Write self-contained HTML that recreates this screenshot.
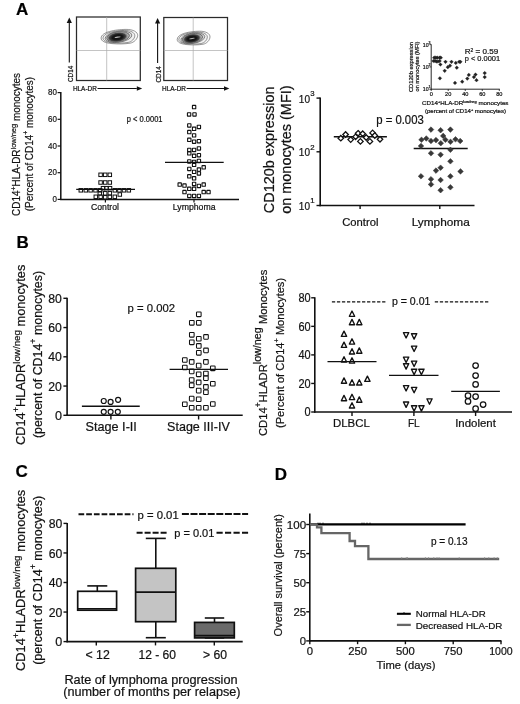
<!DOCTYPE html><html><head><meta charset="utf-8"><style>html,body{margin:0;padding:0;background:#fff;width:520px;height:704px;overflow:hidden}svg{display:block;will-change:transform}text{stroke:#1a1a1a;stroke-width:0.22px;paint-order:stroke}</style></head><body><svg width="520" height="704" viewBox="0 0 520 704" font-family='"Liberation Sans", sans-serif'>
<rect width="520" height="704" fill="#fff"/>
<text x="16" y="15" font-size="17" text-anchor="start" font-weight="bold" fill="#000" >A</text>
<line x1="69.3" y1="62.5" x2="69.3" y2="22" stroke="#111" stroke-width="1.1" />
<path d="M69.3 17.4L71.89999999999999 23.0L66.7 23.0Z" fill="#111"/>
<text transform="translate(72.6,82) rotate(-90)" font-size="6.8" text-anchor="start" fill="#111" textLength="16.3" lengthAdjust="spacingAndGlyphs">CD14</text>
<text x="72.9" y="91.0" font-size="6.6" text-anchor="start" font-weight="normal" fill="#111" textLength="23.9" lengthAdjust="spacingAndGlyphs" >HLA-DR</text>
<line x1="97.5" y1="88.5" x2="136.8" y2="88.5" stroke="#111" stroke-width="1.1" />
<path d="M142.20000000000002 88.5L136.8 86.2L136.8 90.8Z" fill="#111"/>
<rect x="76.5" y="17" width="63.80000000000001" height="63.5" fill="none" stroke="#2a2a2a" stroke-width="1.25"/>
<line x1="106.7" y1="17" x2="106.7" y2="80.5" stroke="#aaa" stroke-width="0.7" />
<line x1="76.5" y1="50.5" x2="140.3" y2="50.5" stroke="#aaa" stroke-width="0.7" />
<defs><radialGradient id="g1" cx="0.5" cy="0.5" r="0.5"><stop offset="0" stop-color="#111"/><stop offset="0.5" stop-color="#161616"/><stop offset="0.78" stop-color="#444"/><stop offset="1" stop-color="#888" stop-opacity="0.3"/></radialGradient></defs>
<path d="M101.10 38.00C101.40 32.00 114.98 29.50 126.04 29.40C133.07 29.30 137.90 32.00 137.70 35.50C137.50 39.00 134.08 42.50 130.06 43.20C125.03 44.00 117.99 44.20 111.96 43.60C104.92 43.00 100.90 41.00 101.10 38.00Z" fill="#fbfbfb" stroke="#444" stroke-width="0.55"/>
<path d="M102.98 37.92C103.24 32.70 115.05 30.52 124.67 30.44C130.80 30.35 135.00 32.70 134.82 35.74C134.65 38.79 131.67 41.83 128.17 42.44C123.80 43.14 117.68 43.31 112.43 42.79C106.30 42.27 102.80 40.53 102.98 37.92Z" fill="#f0f0f0" stroke="#444" stroke-width="0.55"/>
<g transform="translate(119.4,36.6) rotate(-8)" stroke="#3a3a3a">
<ellipse cx="-0.90" cy="0.10" rx="13.47" ry="5.50" stroke-width="0.55" fill="#dedede"/>
<ellipse cx="-1.31" cy="0.10" rx="11.46" ry="4.90" stroke-width="0.6" fill="#b0b0b0"/>
<ellipse cx="-2.01" cy="0.3" rx="10.46" ry="5.10" fill="url(#g1)" stroke="none"/>
<ellipse cx="-1.81" cy="0.3" rx="3.22" ry="0.55" fill="#bbb" stroke="none"/>
</g>
<line x1="157.6" y1="63.0" x2="157.6" y2="22.5" stroke="#111" stroke-width="1.1" />
<path d="M157.6 17.9L160.2 23.5L155.0 23.5Z" fill="#111"/>
<text transform="translate(160.9,82.5) rotate(-90)" font-size="6.8" text-anchor="start" fill="#111" textLength="16.3" lengthAdjust="spacingAndGlyphs">CD14</text>
<text x="162.0" y="91.0" font-size="6.6" text-anchor="start" font-weight="normal" fill="#111" textLength="23.9" lengthAdjust="spacingAndGlyphs" >HLA-DR</text>
<line x1="186.6" y1="88.5" x2="224.0" y2="88.5" stroke="#111" stroke-width="1.1" />
<path d="M229.4 88.5L224.0 86.2L224.0 90.8Z" fill="#111"/>
<rect x="163.8" y="17.5" width="63.69999999999999" height="63.0" fill="none" stroke="#2a2a2a" stroke-width="1.25"/>
<line x1="193.2" y1="17.5" x2="193.2" y2="80.5" stroke="#aaa" stroke-width="0.7" />
<line x1="163.8" y1="50.5" x2="227.5" y2="50.5" stroke="#aaa" stroke-width="0.7" />
<defs><radialGradient id="g2" cx="0.5" cy="0.5" r="0.5"><stop offset="0" stop-color="#111"/><stop offset="0.5" stop-color="#161616"/><stop offset="0.78" stop-color="#444"/><stop offset="1" stop-color="#888" stop-opacity="0.3"/></radialGradient></defs>
<path d="M177.20 39.32C177.47 33.66 189.64 31.31 199.55 31.21C205.85 31.12 210.18 33.66 210.00 36.96C209.82 40.26 206.76 43.56 203.15 44.22C198.65 44.98 192.34 45.17 186.93 44.60C180.62 44.03 177.02 42.15 177.20 39.32Z" fill="#fbfbfb" stroke="#444" stroke-width="0.55"/>
<path d="M178.83 39.25C179.07 34.33 189.65 32.28 198.27 32.19C203.76 32.11 207.52 34.33 207.37 37.20C207.21 40.07 204.55 42.94 201.41 43.51C197.49 44.17 192.00 44.33 187.30 43.84C181.81 43.35 178.68 41.71 178.83 39.25Z" fill="#f0f0f0" stroke="#444" stroke-width="0.55"/>
<g transform="translate(193.6,38.0) rotate(-9)" stroke="#3a3a3a">
<ellipse cx="-0.81" cy="0.10" rx="12.07" ry="5.19" stroke-width="0.55" fill="#dedede"/>
<ellipse cx="-1.17" cy="0.10" rx="10.27" ry="4.62" stroke-width="0.6" fill="#b0b0b0"/>
<ellipse cx="-1.80" cy="0.3" rx="9.37" ry="4.81" fill="url(#g2)" stroke="none"/>
<ellipse cx="-1.62" cy="0.3" rx="2.88" ry="0.55" fill="#bbb" stroke="none"/>
</g>
<line x1="60.8" y1="92.10000000000001" x2="60.8" y2="200.1" stroke="#111" stroke-width="1.5" />
<line x1="60.099999999999994" y1="199.4" x2="239" y2="199.4" stroke="#111" stroke-width="1.5" />
<line x1="57.599999999999994" y1="199.4" x2="60.8" y2="199.4" stroke="#111" stroke-width="1.2" />
<text x="56.9" y="202.1" font-size="9.9" text-anchor="end" font-weight="normal" fill="#111" textLength="4.45" lengthAdjust="spacingAndGlyphs" >0</text>
<line x1="57.599999999999994" y1="172.70000000000002" x2="60.8" y2="172.70000000000002" stroke="#111" stroke-width="1.2" />
<text x="56.9" y="175.4" font-size="9.9" text-anchor="end" font-weight="normal" fill="#111" textLength="8.9" lengthAdjust="spacingAndGlyphs" >20</text>
<line x1="57.599999999999994" y1="146.0" x2="60.8" y2="146.0" stroke="#111" stroke-width="1.2" />
<text x="56.9" y="148.7" font-size="9.9" text-anchor="end" font-weight="normal" fill="#111" textLength="8.9" lengthAdjust="spacingAndGlyphs" >40</text>
<line x1="57.599999999999994" y1="119.30000000000001" x2="60.8" y2="119.30000000000001" stroke="#111" stroke-width="1.2" />
<text x="56.9" y="122.00000000000001" font-size="9.9" text-anchor="end" font-weight="normal" fill="#111" textLength="8.9" lengthAdjust="spacingAndGlyphs" >60</text>
<line x1="57.599999999999994" y1="92.60000000000001" x2="60.8" y2="92.60000000000001" stroke="#111" stroke-width="1.2" />
<text x="56.9" y="95.30000000000001" font-size="9.9" text-anchor="end" font-weight="normal" fill="#111" textLength="8.9" lengthAdjust="spacingAndGlyphs" >80</text>
<line x1="105.4" y1="199.4" x2="105.4" y2="202.4" stroke="#111" stroke-width="1.2" />
<line x1="194" y1="199.4" x2="194" y2="202.4" stroke="#111" stroke-width="1.2" />
<text x="105" y="210" font-size="8.7" text-anchor="middle" font-weight="normal" fill="#111" textLength="27.9" lengthAdjust="spacingAndGlyphs" >Control</text>
<text x="194.2" y="210" font-size="8.7" text-anchor="middle" font-weight="normal" fill="#111" textLength="42.7" lengthAdjust="spacingAndGlyphs" >Lymphoma</text>
<text x="126.8" y="121.9" font-size="8.2" text-anchor="start" font-weight="normal" fill="#111" textLength="35.7" lengthAdjust="spacingAndGlyphs" >p &lt; 0.0001</text>
<text transform="translate(20.1,215.9) rotate(-90)" font-size="10" text-anchor="start" fill="#111" textLength="142.8" lengthAdjust="spacingAndGlyphs">CD14<tspan dy="-4.3" font-size="7">+</tspan><tspan dy="4.3">HLA-DR<tspan dy="-3.7" font-size="7.5">low/neg</tspan><tspan dy="3.7"> monocytes</tspan></tspan></text>
<text transform="translate(32.6,211.2) rotate(-90)" font-size="10" text-anchor="start" fill="#111" textLength="134.2" lengthAdjust="spacingAndGlyphs">(Percent of CD14<tspan dy="-4.3" font-size="7">+</tspan><tspan dy="4.3"> monocytes)</tspan></text>
<line x1="76.2" y1="189.3" x2="135" y2="189.3" stroke="#111" stroke-width="1.2" />
<rect x="98.85" y="173.05" width="3.5" height="3.5" rx="0" fill="none" stroke="#111" stroke-width="1.0"/>
<rect x="103.45" y="173.05" width="3.5" height="3.5" rx="0" fill="none" stroke="#111" stroke-width="1.0"/>
<rect x="108.05" y="173.05" width="3.5" height="3.5" rx="0" fill="none" stroke="#111" stroke-width="1.0"/>
<rect x="98.85" y="180.75" width="3.5" height="3.5" rx="0" fill="none" stroke="#111" stroke-width="1.0"/>
<rect x="103.45" y="180.75" width="3.5" height="3.5" rx="0" fill="none" stroke="#111" stroke-width="1.0"/>
<rect x="108.05" y="180.75" width="3.5" height="3.5" rx="0" fill="none" stroke="#111" stroke-width="1.0"/>
<rect x="101.25" y="186.45" width="3.5" height="3.5" rx="0" fill="none" stroke="#111" stroke-width="1.0"/>
<rect x="104.75" y="186.45" width="3.5" height="3.5" rx="0" fill="none" stroke="#111" stroke-width="1.0"/>
<rect x="108.25" y="186.45" width="3.5" height="3.5" rx="0" fill="none" stroke="#111" stroke-width="1.0"/>
<rect x="79.05" y="188.55" width="3.5" height="3.5" rx="0" fill="none" stroke="#111" stroke-width="1.0"/>
<rect x="84.05" y="188.55" width="3.5" height="3.5" rx="0" fill="none" stroke="#111" stroke-width="1.0"/>
<rect x="88.85" y="188.55" width="3.5" height="3.5" rx="0" fill="none" stroke="#111" stroke-width="1.0"/>
<rect x="93.75" y="188.55" width="3.5" height="3.5" rx="0" fill="none" stroke="#111" stroke-width="1.0"/>
<rect x="98.45" y="188.55" width="3.5" height="3.5" rx="0" fill="none" stroke="#111" stroke-width="1.0"/>
<rect x="113.05" y="188.55" width="3.5" height="3.5" rx="0" fill="none" stroke="#111" stroke-width="1.0"/>
<rect x="117.65" y="188.55" width="3.5" height="3.5" rx="0" fill="none" stroke="#111" stroke-width="1.0"/>
<rect x="122.25" y="188.55" width="3.5" height="3.5" rx="0" fill="none" stroke="#111" stroke-width="1.0"/>
<rect x="127.05" y="188.55" width="3.5" height="3.5" rx="0" fill="none" stroke="#111" stroke-width="1.0"/>
<rect x="98.05" y="191.55" width="3.5" height="3.5" rx="0" fill="none" stroke="#111" stroke-width="1.0"/>
<rect x="103.45" y="191.55" width="3.5" height="3.5" rx="0" fill="none" stroke="#111" stroke-width="1.0"/>
<rect x="108.05" y="191.55" width="3.5" height="3.5" rx="0" fill="none" stroke="#111" stroke-width="1.0"/>
<rect x="118.05" y="192.75" width="3.5" height="3.5" rx="0" fill="none" stroke="#111" stroke-width="1.0"/>
<rect x="94.05" y="195.05" width="3.5" height="3.5" rx="0" fill="none" stroke="#111" stroke-width="1.0"/>
<rect x="98.85" y="195.05" width="3.5" height="3.5" rx="0" fill="none" stroke="#111" stroke-width="1.0"/>
<rect x="103.45" y="195.55" width="3.5" height="3.5" rx="0" fill="none" stroke="#111" stroke-width="1.0"/>
<rect x="108.05" y="195.05" width="3.5" height="3.5" rx="0" fill="none" stroke="#111" stroke-width="1.0"/>
<rect x="113.05" y="195.05" width="3.5" height="3.5" rx="0" fill="none" stroke="#111" stroke-width="1.0"/>
<line x1="165" y1="162.3" x2="223.7" y2="162.3" stroke="#111" stroke-width="1.2" />
<rect x="192.42" y="105.42" width="3.35" height="3.35" rx="0.3" fill="none" stroke="#111" stroke-width="1.1"/>
<rect x="187.42" y="112.73" width="3.35" height="3.35" rx="0.3" fill="none" stroke="#111" stroke-width="1.1"/>
<rect x="192.82" y="112.73" width="3.35" height="3.35" rx="0.3" fill="none" stroke="#111" stroke-width="1.1"/>
<rect x="187.62" y="123.73" width="3.35" height="3.35" rx="0.3" fill="none" stroke="#111" stroke-width="1.1"/>
<rect x="192.42" y="127.13" width="3.35" height="3.35" rx="0.3" fill="none" stroke="#111" stroke-width="1.1"/>
<rect x="197.22" y="125.23" width="3.35" height="3.35" rx="0.3" fill="none" stroke="#111" stroke-width="1.1"/>
<rect x="187.62" y="130.42" width="3.35" height="3.35" rx="0.3" fill="none" stroke="#111" stroke-width="1.1"/>
<rect x="192.42" y="133.72" width="3.35" height="3.35" rx="0.3" fill="none" stroke="#111" stroke-width="1.1"/>
<rect x="187.62" y="138.12" width="3.35" height="3.35" rx="0.3" fill="none" stroke="#111" stroke-width="1.1"/>
<rect x="192.42" y="140.02" width="3.35" height="3.35" rx="0.3" fill="none" stroke="#111" stroke-width="1.1"/>
<rect x="197.22" y="139.52" width="3.35" height="3.35" rx="0.3" fill="none" stroke="#111" stroke-width="1.1"/>
<rect x="187.62" y="148.32" width="3.35" height="3.35" rx="0.3" fill="none" stroke="#111" stroke-width="1.1"/>
<rect x="192.42" y="148.32" width="3.35" height="3.35" rx="0.3" fill="none" stroke="#111" stroke-width="1.1"/>
<rect x="197.22" y="146.82" width="3.35" height="3.35" rx="0.3" fill="none" stroke="#111" stroke-width="1.1"/>
<rect x="187.62" y="151.62" width="3.35" height="3.35" rx="0.3" fill="none" stroke="#111" stroke-width="1.1"/>
<rect x="192.42" y="154.12" width="3.35" height="3.35" rx="0.3" fill="none" stroke="#111" stroke-width="1.1"/>
<rect x="197.22" y="153.52" width="3.35" height="3.35" rx="0.3" fill="none" stroke="#111" stroke-width="1.1"/>
<rect x="187.62" y="159.82" width="3.35" height="3.35" rx="0.3" fill="none" stroke="#111" stroke-width="1.1"/>
<rect x="192.42" y="160.22" width="3.35" height="3.35" rx="0.3" fill="none" stroke="#111" stroke-width="1.1"/>
<rect x="197.22" y="159.32" width="3.35" height="3.35" rx="0.3" fill="none" stroke="#111" stroke-width="1.1"/>
<rect x="192.42" y="163.12" width="3.35" height="3.35" rx="0.3" fill="none" stroke="#111" stroke-width="1.1"/>
<rect x="187.62" y="167.32" width="3.35" height="3.35" rx="0.3" fill="none" stroke="#111" stroke-width="1.1"/>
<rect x="192.42" y="170.22" width="3.35" height="3.35" rx="0.3" fill="none" stroke="#111" stroke-width="1.1"/>
<rect x="197.22" y="167.92" width="3.35" height="3.35" rx="0.3" fill="none" stroke="#111" stroke-width="1.1"/>
<rect x="202.02" y="165.62" width="3.35" height="3.35" rx="0.3" fill="none" stroke="#111" stroke-width="1.1"/>
<rect x="197.22" y="171.82" width="3.35" height="3.35" rx="0.3" fill="none" stroke="#111" stroke-width="1.1"/>
<rect x="187.62" y="174.62" width="3.35" height="3.35" rx="0.3" fill="none" stroke="#111" stroke-width="1.1"/>
<rect x="192.42" y="176.62" width="3.35" height="3.35" rx="0.3" fill="none" stroke="#111" stroke-width="1.1"/>
<rect x="178.02" y="182.92" width="3.35" height="3.35" rx="0.3" fill="none" stroke="#111" stroke-width="1.1"/>
<rect x="182.82" y="183.92" width="3.35" height="3.35" rx="0.3" fill="none" stroke="#111" stroke-width="1.1"/>
<rect x="192.42" y="182.32" width="3.35" height="3.35" rx="0.3" fill="none" stroke="#111" stroke-width="1.1"/>
<rect x="197.22" y="184.32" width="3.35" height="3.35" rx="0.3" fill="none" stroke="#111" stroke-width="1.1"/>
<rect x="202.02" y="182.92" width="3.35" height="3.35" rx="0.3" fill="none" stroke="#111" stroke-width="1.1"/>
<rect x="187.62" y="187.12" width="3.35" height="3.35" rx="0.3" fill="none" stroke="#111" stroke-width="1.1"/>
<rect x="192.42" y="187.12" width="3.35" height="3.35" rx="0.3" fill="none" stroke="#111" stroke-width="1.1"/>
<rect x="182.82" y="190.42" width="3.35" height="3.35" rx="0.3" fill="none" stroke="#111" stroke-width="1.1"/>
<rect x="202.02" y="190.42" width="3.35" height="3.35" rx="0.3" fill="none" stroke="#111" stroke-width="1.1"/>
<rect x="206.82" y="190.42" width="3.35" height="3.35" rx="0.3" fill="none" stroke="#111" stroke-width="1.1"/>
<rect x="187.62" y="194.32" width="3.35" height="3.35" rx="0.3" fill="none" stroke="#111" stroke-width="1.1"/>
<rect x="192.42" y="194.32" width="3.35" height="3.35" rx="0.3" fill="none" stroke="#111" stroke-width="1.1"/>
<rect x="197.22" y="194.32" width="3.35" height="3.35" rx="0.3" fill="none" stroke="#111" stroke-width="1.1"/>
<line x1="320.2" y1="97.6" x2="320.2" y2="206.2" stroke="#111" stroke-width="1.6" />
<line x1="319.5" y1="205.5" x2="474.5" y2="205.5" stroke="#111" stroke-width="1.6" />
<line x1="316.5" y1="205.5" x2="320.2" y2="205.5" stroke="#111" stroke-width="1.4" />
<text x="310" y="210.1" font-size="11" text-anchor="end" font-weight="normal" fill="#111" textLength="11.2" lengthAdjust="spacingAndGlyphs" >10</text>
<text x="310.2" y="203.3" font-size="7.8" text-anchor="start" font-weight="normal" fill="#111" >1</text>
<line x1="316.5" y1="151.8" x2="320.2" y2="151.8" stroke="#111" stroke-width="1.4" />
<text x="310" y="156.4" font-size="11" text-anchor="end" font-weight="normal" fill="#111" textLength="11.2" lengthAdjust="spacingAndGlyphs" >10</text>
<text x="310.2" y="149.60000000000002" font-size="7.8" text-anchor="start" font-weight="normal" fill="#111" >2</text>
<line x1="316.5" y1="98.1" x2="320.2" y2="98.1" stroke="#111" stroke-width="1.4" />
<text x="310" y="102.69999999999999" font-size="11" text-anchor="end" font-weight="normal" fill="#111" textLength="11.2" lengthAdjust="spacingAndGlyphs" >10</text>
<text x="310.2" y="95.89999999999999" font-size="7.8" text-anchor="start" font-weight="normal" fill="#111" >3</text>
<line x1="360.1" y1="205.5" x2="360.1" y2="209.0" stroke="#111" stroke-width="1.4" />
<line x1="439.8" y1="205.5" x2="439.8" y2="209.0" stroke="#111" stroke-width="1.4" />
<text x="360.3" y="226.0" font-size="11" text-anchor="middle" font-weight="normal" fill="#111" textLength="36.2" lengthAdjust="spacingAndGlyphs" >Control</text>
<text x="440.7" y="226.0" font-size="11" text-anchor="middle" font-weight="normal" fill="#111" textLength="58.1" lengthAdjust="spacingAndGlyphs" >Lymphoma</text>
<text x="376.2" y="124.4" font-size="12" text-anchor="start" font-weight="normal" fill="#111" textLength="47.6" lengthAdjust="spacingAndGlyphs" >p = 0.003</text>
<text transform="translate(274.4,213.2) rotate(-90)" font-size="14.4" text-anchor="start" fill="#111" textLength="126.7" lengthAdjust="spacingAndGlyphs">CD120b expression</text>
<text transform="translate(291.3,213.7) rotate(-90)" font-size="14.4" text-anchor="start" fill="#111" textLength="128.2" lengthAdjust="spacingAndGlyphs">on monocytes (MFI)</text>
<line x1="333.8" y1="136.8" x2="386.9" y2="136.8" stroke="#111" stroke-width="1.5" />
<path d="M340.8 135.45L343.55 138.2L340.8 140.95L338.05 138.2Z" fill="#fff" stroke="#111" stroke-width="1.3"/>
<path d="M345.6 131.75L348.35 134.5L345.6 137.25L342.85 134.5Z" fill="#fff" stroke="#111" stroke-width="1.3"/>
<path d="M350.7 136.85L353.45 139.6L350.7 142.35L347.95 139.6Z" fill="#fff" stroke="#111" stroke-width="1.3"/>
<path d="M355.6 134.05L358.35 136.8L355.6 139.55L352.85 136.8Z" fill="#fff" stroke="#111" stroke-width="1.3"/>
<path d="M358.1 130.55L360.85 133.3L358.1 136.05L355.35 133.3Z" fill="#fff" stroke="#111" stroke-width="1.3"/>
<path d="M362.7 130.95L365.45 133.7L362.7 136.45L359.95 133.7Z" fill="#fff" stroke="#111" stroke-width="1.3"/>
<path d="M360.4 138.65L363.15 141.4L360.4 144.15L357.65 141.4Z" fill="#fff" stroke="#111" stroke-width="1.3"/>
<path d="M366.2 134.75L368.95 137.5L366.2 140.25L363.45 137.5Z" fill="#fff" stroke="#111" stroke-width="1.3"/>
<path d="M369.9 138.65L372.65 141.4L369.9 144.15L367.15 141.4Z" fill="#fff" stroke="#111" stroke-width="1.3"/>
<path d="M372.6 130.15L375.35 132.9L372.6 135.65L369.85 132.9Z" fill="#fff" stroke="#111" stroke-width="1.3"/>
<path d="M374.8 132.75L377.55 135.5L374.8 138.25L372.05 135.5Z" fill="#fff" stroke="#111" stroke-width="1.3"/>
<path d="M380 136.55L382.75 139.3L380 142.05L377.25 139.3Z" fill="#fff" stroke="#111" stroke-width="1.3"/>
<line x1="413.7" y1="148.5" x2="467.7" y2="148.5" stroke="#111" stroke-width="1.5" />
<path d="M431 126.8L433.8 129.6L431 132.4L428.2 129.6Z" fill="#383838" stroke="#383838" stroke-width="0.5"/>
<path d="M440.6 127.39999999999999L443.40000000000003 130.2L440.6 133.0L437.8 130.2Z" fill="#383838" stroke="#383838" stroke-width="0.5"/>
<path d="M450.4 126.8L453.2 129.6L450.4 132.4L447.59999999999997 129.6Z" fill="#383838" stroke="#383838" stroke-width="0.5"/>
<path d="M421.5 137.0L424.3 139.8L421.5 142.60000000000002L418.7 139.8Z" fill="#383838" stroke="#383838" stroke-width="0.5"/>
<path d="M426.3 135.7L429.1 138.5L426.3 141.3L423.5 138.5Z" fill="#383838" stroke="#383838" stroke-width="0.5"/>
<path d="M431 138.2L433.8 141L431 143.8L428.2 141Z" fill="#383838" stroke="#383838" stroke-width="0.5"/>
<path d="M436 137.29999999999998L438.8 140.1L436 142.9L433.2 140.1Z" fill="#383838" stroke="#383838" stroke-width="0.5"/>
<path d="M440.8 140.39999999999998L443.6 143.2L440.8 146.0L438.0 143.2Z" fill="#383838" stroke="#383838" stroke-width="0.5"/>
<path d="M443.2 133.1L446.0 135.9L443.2 138.70000000000002L440.4 135.9Z" fill="#383838" stroke="#383838" stroke-width="0.5"/>
<path d="M445.4 137.0L448.2 139.8L445.4 142.60000000000002L442.59999999999997 139.8Z" fill="#383838" stroke="#383838" stroke-width="0.5"/>
<path d="M450.5 139.0L453.3 141.8L450.5 144.60000000000002L447.7 141.8Z" fill="#383838" stroke="#383838" stroke-width="0.5"/>
<path d="M455.5 136.5L458.3 139.3L455.5 142.10000000000002L452.7 139.3Z" fill="#383838" stroke="#383838" stroke-width="0.5"/>
<path d="M460.2 138.2L463.0 141L460.2 143.8L457.4 141Z" fill="#383838" stroke="#383838" stroke-width="0.5"/>
<path d="M421 143.2L423.8 146L421 148.8L418.2 146Z" fill="#383838" stroke="#383838" stroke-width="0.5"/>
<path d="M431 150.5L433.8 153.3L431 156.10000000000002L428.2 153.3Z" fill="#383838" stroke="#383838" stroke-width="0.5"/>
<path d="M440.6 151.89999999999998L443.40000000000003 154.7L440.6 157.5L437.8 154.7Z" fill="#383838" stroke="#383838" stroke-width="0.5"/>
<path d="M450.4 147.0L453.2 149.8L450.4 152.60000000000002L447.59999999999997 149.8Z" fill="#383838" stroke="#383838" stroke-width="0.5"/>
<path d="M450.4 158.5L453.2 161.3L450.4 164.10000000000002L447.59999999999997 161.3Z" fill="#383838" stroke="#383838" stroke-width="0.5"/>
<path d="M436 167.79999999999998L438.8 170.6L436 173.4L433.2 170.6Z" fill="#383838" stroke="#383838" stroke-width="0.5"/>
<path d="M440.6 164.89999999999998L443.40000000000003 167.7L440.6 170.5L437.8 167.7Z" fill="#383838" stroke="#383838" stroke-width="0.5"/>
<path d="M460.5 168.6L463.3 171.4L460.5 174.20000000000002L457.7 171.4Z" fill="#383838" stroke="#383838" stroke-width="0.5"/>
<path d="M421 173.5L423.8 176.3L421 179.10000000000002L418.2 176.3Z" fill="#383838" stroke="#383838" stroke-width="0.5"/>
<path d="M431 176.39999999999998L433.8 179.2L431 182.0L428.2 179.2Z" fill="#383838" stroke="#383838" stroke-width="0.5"/>
<path d="M440.6 177.2L443.40000000000003 180L440.6 182.8L437.8 180Z" fill="#383838" stroke="#383838" stroke-width="0.5"/>
<path d="M450.4 173.5L453.2 176.3L450.4 179.10000000000002L447.59999999999997 176.3Z" fill="#383838" stroke="#383838" stroke-width="0.5"/>
<path d="M431 181.6L433.8 184.4L431 187.20000000000002L428.2 184.4Z" fill="#383838" stroke="#383838" stroke-width="0.5"/>
<path d="M440.6 187.39999999999998L443.40000000000003 190.2L440.6 193.0L437.8 190.2Z" fill="#383838" stroke="#383838" stroke-width="0.5"/>
<path d="M450.4 184.5L453.2 187.3L450.4 190.10000000000002L447.59999999999997 187.3Z" fill="#383838" stroke="#383838" stroke-width="0.5"/>
<line x1="431.2" y1="44.300000000000004" x2="431.2" y2="89.60000000000001" stroke="#111" stroke-width="0.9" />
<line x1="430.8" y1="89.2" x2="499.8" y2="89.2" stroke="#111" stroke-width="0.9" />
<line x1="429.4" y1="89.2" x2="431.2" y2="89.2" stroke="#111" stroke-width="0.8" />
<text x="428.6" y="91.4" font-size="5.2" text-anchor="end" font-weight="normal" fill="#111" >10</text>
<text x="428.6" y="88.4" font-size="3.6" text-anchor="start" font-weight="normal" fill="#111" >1</text>
<line x1="429.4" y1="66.9" x2="431.2" y2="66.9" stroke="#111" stroke-width="0.8" />
<text x="428.6" y="69.10000000000001" font-size="5.2" text-anchor="end" font-weight="normal" fill="#111" >10</text>
<text x="428.6" y="66.10000000000001" font-size="3.6" text-anchor="start" font-weight="normal" fill="#111" >2</text>
<line x1="429.4" y1="44.6" x2="431.2" y2="44.6" stroke="#111" stroke-width="0.8" />
<text x="428.6" y="46.800000000000004" font-size="5.2" text-anchor="end" font-weight="normal" fill="#111" >10</text>
<text x="428.6" y="43.800000000000004" font-size="3.6" text-anchor="start" font-weight="normal" fill="#111" >3</text>
<line x1="431.2" y1="89.2" x2="431.2" y2="91.0" stroke="#111" stroke-width="0.8" />
<text x="431.2" y="95.5" font-size="5.6" text-anchor="middle" font-weight="normal" fill="#111" >0</text>
<line x1="448.225" y1="89.2" x2="448.225" y2="91.0" stroke="#111" stroke-width="0.8" />
<text x="448.225" y="95.5" font-size="5.6" text-anchor="middle" font-weight="normal" fill="#111" >20</text>
<line x1="465.25" y1="89.2" x2="465.25" y2="91.0" stroke="#111" stroke-width="0.8" />
<text x="465.25" y="95.5" font-size="5.6" text-anchor="middle" font-weight="normal" fill="#111" >40</text>
<line x1="482.275" y1="89.2" x2="482.275" y2="91.0" stroke="#111" stroke-width="0.8" />
<text x="482.275" y="95.5" font-size="5.6" text-anchor="middle" font-weight="normal" fill="#111" >60</text>
<line x1="499.3" y1="89.2" x2="499.3" y2="91.0" stroke="#111" stroke-width="0.8" />
<text x="499.3" y="95.5" font-size="5.6" text-anchor="middle" font-weight="normal" fill="#111" >80</text>
<text x="464.7" y="54.2" font-size="7.8" text-anchor="start" font-weight="normal" fill="#111" textLength="33.5" lengthAdjust="spacingAndGlyphs" >R<tspan dy="-2.6" font-size="4.8">2</tspan><tspan dy="2.6"> = 0.59</tspan></text>
<text x="464.7" y="61.2" font-size="8.0" text-anchor="start" font-weight="normal" fill="#111" textLength="35.5" lengthAdjust="spacingAndGlyphs" >p &lt; 0.0001</text>
<text transform="translate(413.2,92) rotate(-90)" font-size="5.6" text-anchor="start" fill="#111" textLength="50" lengthAdjust="spacingAndGlyphs">CD120b expression</text>
<text transform="translate(419,91.5) rotate(-90)" font-size="5.6" text-anchor="start" fill="#111" textLength="50" lengthAdjust="spacingAndGlyphs">on monocytes (MFI)</text>
<text x="422" y="105" font-size="5.8" text-anchor="start" font-weight="normal" fill="#111" textLength="86.5" lengthAdjust="spacingAndGlyphs" >CD14<tspan dy="-2" font-size="3.6">+</tspan><tspan dy="2">HLA-DR<tspan dy="-2" font-size="3.6">low/neg</tspan><tspan dy="2"> monocytes</tspan></tspan></text>
<text x="425" y="113" font-size="5.6" text-anchor="start" font-weight="normal" fill="#111" textLength="81" lengthAdjust="spacingAndGlyphs" >(percent of CD14<tspan dy="-2" font-size="3.6">+</tspan><tspan dy="2"> monocytes)</tspan></text>
<path d="M434.2 55.85L436.05 57.7L434.2 59.550000000000004L432.34999999999997 57.7Z" fill="#222" stroke="#222" stroke-width="0.3"/>
<path d="M435.8 55.85L437.65000000000003 57.7L435.8 59.550000000000004L433.95 57.7Z" fill="#222" stroke="#222" stroke-width="0.3"/>
<path d="M437.3 55.85L439.15000000000003 57.7L437.3 59.550000000000004L435.45 57.7Z" fill="#222" stroke="#222" stroke-width="0.3"/>
<path d="M439.6 55.85L441.45000000000005 57.7L439.6 59.550000000000004L437.75 57.7Z" fill="#222" stroke="#222" stroke-width="0.3"/>
<path d="M440.8 55.85L442.65000000000003 57.7L440.8 59.550000000000004L438.95 57.7Z" fill="#222" stroke="#222" stroke-width="0.3"/>
<path d="M433.5 59.15L435.35 61L433.5 62.85L431.65 61Z" fill="#222" stroke="#222" stroke-width="0.3"/>
<path d="M435 59.15L436.85 61L435 62.85L433.15 61Z" fill="#222" stroke="#222" stroke-width="0.3"/>
<path d="M436.5 59.65L438.35 61.5L436.5 63.35L434.65 61.5Z" fill="#222" stroke="#222" stroke-width="0.3"/>
<path d="M438 59.65L439.85 61.5L438 63.35L436.15 61.5Z" fill="#222" stroke="#222" stroke-width="0.3"/>
<path d="M439.6 59.15L441.45000000000005 61L439.6 62.85L437.75 61Z" fill="#222" stroke="#222" stroke-width="0.3"/>
<path d="M440.4 62.65L442.25 64.5L440.4 66.35L438.54999999999995 64.5Z" fill="#222" stroke="#222" stroke-width="0.3"/>
<path d="M445.5 59.949999999999996L447.35 61.8L445.5 63.65L443.65 61.8Z" fill="#222" stroke="#222" stroke-width="0.3"/>
<path d="M451.5 59.949999999999996L453.35 61.8L451.5 63.65L449.65 61.8Z" fill="#222" stroke="#222" stroke-width="0.3"/>
<path d="M455.8 61.05L457.65000000000003 62.9L455.8 64.75L453.95 62.9Z" fill="#222" stroke="#222" stroke-width="0.3"/>
<path d="M459.2 59.949999999999996L461.05 61.8L459.2 63.65L457.34999999999997 61.8Z" fill="#222" stroke="#222" stroke-width="0.3"/>
<path d="M460.4 59.949999999999996L462.25 61.8L460.4 63.65L458.54999999999995 61.8Z" fill="#222" stroke="#222" stroke-width="0.3"/>
<path d="M450 63.85L451.85 65.7L450 67.55L448.15 65.7Z" fill="#222" stroke="#222" stroke-width="0.3"/>
<path d="M447.8 65.35000000000001L449.65000000000003 67.2L447.8 69.05L445.95 67.2Z" fill="#222" stroke="#222" stroke-width="0.3"/>
<path d="M444.7 68.95L446.55 70.8L444.7 72.64999999999999L442.84999999999997 70.8Z" fill="#222" stroke="#222" stroke-width="0.3"/>
<path d="M456.8 65.85000000000001L458.65000000000003 67.7L456.8 69.55L454.95 67.7Z" fill="#222" stroke="#222" stroke-width="0.3"/>
<path d="M439.9 76.45L441.75 78.3L439.9 80.14999999999999L438.04999999999995 78.3Z" fill="#222" stroke="#222" stroke-width="0.3"/>
<path d="M455 81.05000000000001L456.85 82.9L455 84.75L453.15 82.9Z" fill="#222" stroke="#222" stroke-width="0.3"/>
<path d="M462.2 79.85000000000001L464.05 81.7L462.2 83.55L460.34999999999997 81.7Z" fill="#222" stroke="#222" stroke-width="0.3"/>
<path d="M467.3 76.75L469.15000000000003 78.6L467.3 80.44999999999999L465.45 78.6Z" fill="#222" stroke="#222" stroke-width="0.3"/>
<path d="M468.8 73.05000000000001L470.65000000000003 74.9L468.8 76.75L466.95 74.9Z" fill="#222" stroke="#222" stroke-width="0.3"/>
<path d="M473.9 75.25L475.75 77.1L473.9 78.94999999999999L472.04999999999995 77.1Z" fill="#222" stroke="#222" stroke-width="0.3"/>
<path d="M475.5 72.75L477.35 74.6L475.5 76.44999999999999L473.65 74.6Z" fill="#222" stroke="#222" stroke-width="0.3"/>
<path d="M476.5 78.35000000000001L478.35 80.2L476.5 82.05L474.65 80.2Z" fill="#222" stroke="#222" stroke-width="0.3"/>
<path d="M484.7 71.25L486.55 73.1L484.7 74.94999999999999L482.84999999999997 73.1Z" fill="#222" stroke="#222" stroke-width="0.3"/>
<path d="M484.7 75.25L486.55 77.1L484.7 78.94999999999999L482.84999999999997 77.1Z" fill="#222" stroke="#222" stroke-width="0.3"/>
<text x="16.4" y="247.6" font-size="17" text-anchor="start" font-weight="bold" fill="#000" >B</text>
<line x1="67.1" y1="297.8" x2="67.1" y2="416.0" stroke="#111" stroke-width="1.6" />
<line x1="66.39999999999999" y1="415.3" x2="242.7" y2="415.3" stroke="#111" stroke-width="1.6" />
<line x1="63.39999999999999" y1="415.3" x2="67.1" y2="415.3" stroke="#111" stroke-width="1.4" />
<text x="61.9" y="419.90000000000003" font-size="13" text-anchor="end" font-weight="normal" fill="#111" textLength="7.0" lengthAdjust="spacingAndGlyphs" >0</text>
<line x1="63.39999999999999" y1="386.05" x2="67.1" y2="386.05" stroke="#111" stroke-width="1.4" />
<text x="61.9" y="390.65000000000003" font-size="13" text-anchor="end" font-weight="normal" fill="#111" textLength="13.6" lengthAdjust="spacingAndGlyphs" >20</text>
<line x1="63.39999999999999" y1="356.8" x2="67.1" y2="356.8" stroke="#111" stroke-width="1.4" />
<text x="61.9" y="361.40000000000003" font-size="13" text-anchor="end" font-weight="normal" fill="#111" textLength="13.6" lengthAdjust="spacingAndGlyphs" >40</text>
<line x1="63.39999999999999" y1="327.55" x2="67.1" y2="327.55" stroke="#111" stroke-width="1.4" />
<text x="61.9" y="332.15000000000003" font-size="13" text-anchor="end" font-weight="normal" fill="#111" textLength="13.6" lengthAdjust="spacingAndGlyphs" >60</text>
<line x1="63.39999999999999" y1="298.3" x2="67.1" y2="298.3" stroke="#111" stroke-width="1.4" />
<text x="61.9" y="302.90000000000003" font-size="13" text-anchor="end" font-weight="normal" fill="#111" textLength="13.6" lengthAdjust="spacingAndGlyphs" >80</text>
<line x1="110.9" y1="415.3" x2="110.9" y2="419.5" stroke="#111" stroke-width="1.4" />
<line x1="198.6" y1="415.3" x2="198.6" y2="419.5" stroke="#111" stroke-width="1.4" />
<text x="85.5" y="431.2" font-size="12.8" text-anchor="start" font-weight="normal" fill="#111" textLength="51.4" lengthAdjust="spacingAndGlyphs" >Stage I-II</text>
<text x="167.1" y="431.2" font-size="12.8" text-anchor="start" font-weight="normal" fill="#111" textLength="62.7" lengthAdjust="spacingAndGlyphs" >Stage III-IV</text>
<text x="127.6" y="311.6" font-size="11.5" text-anchor="start" font-weight="normal" fill="#111" textLength="47.5" lengthAdjust="spacingAndGlyphs" >p = 0.002</text>
<text transform="translate(24.9,445.0) rotate(-90)" font-size="12.8" text-anchor="start" fill="#111" textLength="180.3" lengthAdjust="spacingAndGlyphs">CD14<tspan dy="-6" font-size="9">+</tspan><tspan dy="6">HLADR<tspan dy="-5.2" font-size="9.8">low/neg</tspan><tspan dy="5.2"> monocytes</tspan></tspan></text>
<text transform="translate(42.2,438.1) rotate(-90)" font-size="12.7" text-anchor="start" fill="#111" textLength="167.2" lengthAdjust="spacingAndGlyphs">(percent of CD14<tspan dy="-6" font-size="9">+</tspan><tspan dy="6"> monocytes)</tspan></text>
<line x1="81.9" y1="406.25" x2="139.75" y2="406.25" stroke="#111" stroke-width="1.3" />
<circle cx="103.75" cy="401" r="2.5" fill="none" stroke="#111" stroke-width="1.2"/>
<circle cx="110.6" cy="401.9" r="2.5" fill="none" stroke="#111" stroke-width="1.2"/>
<circle cx="118.1" cy="399.8" r="2.5" fill="none" stroke="#111" stroke-width="1.2"/>
<circle cx="103.75" cy="411.8" r="2.5" fill="none" stroke="#111" stroke-width="1.2"/>
<circle cx="110.6" cy="411.8" r="2.5" fill="none" stroke="#111" stroke-width="1.2"/>
<circle cx="117.8" cy="411.8" r="2.5" fill="none" stroke="#111" stroke-width="1.2"/>
<line x1="169.6" y1="369.3" x2="228" y2="369.3" stroke="#111" stroke-width="1.3" />
<rect x="196.50" y="312.00" width="4.6" height="4.6" rx="0.6" fill="none" stroke="#111" stroke-width="1.05"/>
<rect x="189.50" y="320.50" width="4.6" height="4.6" rx="0.6" fill="none" stroke="#111" stroke-width="1.05"/>
<rect x="196.50" y="320.50" width="4.6" height="4.6" rx="0.6" fill="none" stroke="#111" stroke-width="1.05"/>
<rect x="189.50" y="332.50" width="4.6" height="4.6" rx="0.6" fill="none" stroke="#111" stroke-width="1.05"/>
<rect x="196.50" y="336.40" width="4.6" height="4.6" rx="0.6" fill="none" stroke="#111" stroke-width="1.05"/>
<rect x="203.70" y="334.60" width="4.6" height="4.6" rx="0.6" fill="none" stroke="#111" stroke-width="1.05"/>
<rect x="189.50" y="340.00" width="4.6" height="4.6" rx="0.6" fill="none" stroke="#111" stroke-width="1.05"/>
<rect x="196.50" y="343.60" width="4.6" height="4.6" rx="0.6" fill="none" stroke="#111" stroke-width="1.05"/>
<rect x="203.70" y="348.10" width="4.6" height="4.6" rx="0.6" fill="none" stroke="#111" stroke-width="1.05"/>
<rect x="196.50" y="350.50" width="4.6" height="4.6" rx="0.6" fill="none" stroke="#111" stroke-width="1.05"/>
<rect x="182.50" y="357.70" width="4.6" height="4.6" rx="0.6" fill="none" stroke="#111" stroke-width="1.05"/>
<rect x="189.40" y="359.60" width="4.6" height="4.6" rx="0.6" fill="none" stroke="#111" stroke-width="1.05"/>
<rect x="203.60" y="359.60" width="4.6" height="4.6" rx="0.6" fill="none" stroke="#111" stroke-width="1.05"/>
<rect x="196.40" y="363.30" width="4.6" height="4.6" rx="0.6" fill="none" stroke="#111" stroke-width="1.05"/>
<rect x="182.50" y="365.20" width="4.6" height="4.6" rx="0.6" fill="none" stroke="#111" stroke-width="1.05"/>
<rect x="210.50" y="366.00" width="4.6" height="4.6" rx="0.6" fill="none" stroke="#111" stroke-width="1.05"/>
<rect x="189.40" y="369.10" width="4.6" height="4.6" rx="0.6" fill="none" stroke="#111" stroke-width="1.05"/>
<rect x="196.40" y="372.00" width="4.6" height="4.6" rx="0.6" fill="none" stroke="#111" stroke-width="1.05"/>
<rect x="203.60" y="371.30" width="4.6" height="4.6" rx="0.6" fill="none" stroke="#111" stroke-width="1.05"/>
<rect x="203.60" y="375.80" width="4.6" height="4.6" rx="0.6" fill="none" stroke="#111" stroke-width="1.05"/>
<rect x="189.40" y="377.70" width="4.6" height="4.6" rx="0.6" fill="none" stroke="#111" stroke-width="1.05"/>
<rect x="196.40" y="380.10" width="4.6" height="4.6" rx="0.6" fill="none" stroke="#111" stroke-width="1.05"/>
<rect x="210.50" y="381.40" width="4.6" height="4.6" rx="0.6" fill="none" stroke="#111" stroke-width="1.05"/>
<rect x="189.40" y="383.00" width="4.6" height="4.6" rx="0.6" fill="none" stroke="#111" stroke-width="1.05"/>
<rect x="203.60" y="384.60" width="4.6" height="4.6" rx="0.6" fill="none" stroke="#111" stroke-width="1.05"/>
<rect x="196.40" y="388.30" width="4.6" height="4.6" rx="0.6" fill="none" stroke="#111" stroke-width="1.05"/>
<rect x="203.60" y="389.90" width="4.6" height="4.6" rx="0.6" fill="none" stroke="#111" stroke-width="1.05"/>
<rect x="189.40" y="396.30" width="4.6" height="4.6" rx="0.6" fill="none" stroke="#111" stroke-width="1.05"/>
<rect x="196.40" y="396.90" width="4.6" height="4.6" rx="0.6" fill="none" stroke="#111" stroke-width="1.05"/>
<rect x="182.50" y="401.90" width="4.6" height="4.6" rx="0.6" fill="none" stroke="#111" stroke-width="1.05"/>
<rect x="210.50" y="401.70" width="4.6" height="4.6" rx="0.6" fill="none" stroke="#111" stroke-width="1.05"/>
<rect x="189.40" y="405.40" width="4.6" height="4.6" rx="0.6" fill="none" stroke="#111" stroke-width="1.05"/>
<rect x="196.40" y="405.40" width="4.6" height="4.6" rx="0.6" fill="none" stroke="#111" stroke-width="1.05"/>
<rect x="203.60" y="405.40" width="4.6" height="4.6" rx="0.6" fill="none" stroke="#111" stroke-width="1.05"/>
<line x1="314.8" y1="297.3" x2="314.8" y2="412.7" stroke="#111" stroke-width="1.6" />
<line x1="314.1" y1="412" x2="512" y2="412" stroke="#111" stroke-width="1.6" />
<line x1="311.2" y1="412.0" x2="314.8" y2="412.0" stroke="#111" stroke-width="1.4" />
<text x="310.6" y="416.2" font-size="12" text-anchor="end" font-weight="normal" fill="#111" textLength="6.1" lengthAdjust="spacingAndGlyphs" >0</text>
<line x1="311.2" y1="383.45" x2="314.8" y2="383.45" stroke="#111" stroke-width="1.4" />
<text x="310.6" y="387.65" font-size="12" text-anchor="end" font-weight="normal" fill="#111" textLength="12.2" lengthAdjust="spacingAndGlyphs" >20</text>
<line x1="311.2" y1="354.9" x2="314.8" y2="354.9" stroke="#111" stroke-width="1.4" />
<text x="310.6" y="359.09999999999997" font-size="12" text-anchor="end" font-weight="normal" fill="#111" textLength="12.2" lengthAdjust="spacingAndGlyphs" >40</text>
<line x1="311.2" y1="326.35" x2="314.8" y2="326.35" stroke="#111" stroke-width="1.4" />
<text x="310.6" y="330.55" font-size="12" text-anchor="end" font-weight="normal" fill="#111" textLength="12.2" lengthAdjust="spacingAndGlyphs" >60</text>
<line x1="311.2" y1="297.8" x2="314.8" y2="297.8" stroke="#111" stroke-width="1.4" />
<text x="310.6" y="302.0" font-size="12" text-anchor="end" font-weight="normal" fill="#111" textLength="12.2" lengthAdjust="spacingAndGlyphs" >80</text>
<line x1="352" y1="412" x2="352" y2="416" stroke="#111" stroke-width="1.4" />
<line x1="413.9" y1="412" x2="413.9" y2="416" stroke="#111" stroke-width="1.4" />
<line x1="475.6" y1="412" x2="475.6" y2="416" stroke="#111" stroke-width="1.4" />
<text x="333" y="427.1" font-size="11.4" text-anchor="start" font-weight="normal" fill="#111" textLength="36.8" lengthAdjust="spacingAndGlyphs" >DLBCL</text>
<text x="407.9" y="427.1" font-size="11.4" text-anchor="start" font-weight="normal" fill="#111" textLength="11.8" lengthAdjust="spacingAndGlyphs" >FL</text>
<text x="455.2" y="427.1" font-size="11.4" text-anchor="start" font-weight="normal" fill="#111" textLength="40.7" lengthAdjust="spacingAndGlyphs" >Indolent</text>
<line x1="331.9" y1="301.8" x2="387.1" y2="301.8" stroke="#111" stroke-width="1.2" stroke-dasharray="3.3 1.72"/>
<line x1="434.8" y1="301.8" x2="490" y2="301.8" stroke="#111" stroke-width="1.2" stroke-dasharray="3.3 1.72"/>
<text x="392" y="304.9" font-size="10.6" text-anchor="start" font-weight="normal" fill="#111" textLength="38.4" lengthAdjust="spacingAndGlyphs" >p = 0.01</text>
<text transform="translate(266.7,436.0) rotate(-90)" font-size="11.1" text-anchor="start" fill="#111" textLength="166.3" lengthAdjust="spacingAndGlyphs">CD14<tspan dy="-5.4" font-size="8.2">+</tspan><tspan dy="5.4">HLADR<tspan dy="-5.7" font-size="10.6">low/neg</tspan><tspan dy="5.7"> Monocytes</tspan></tspan></text>
<text transform="translate(284.3,428.0) rotate(-90)" font-size="11.2" text-anchor="start" fill="#111" textLength="150.1" lengthAdjust="spacingAndGlyphs">(Percent of CD14<tspan dy="-5.3" font-size="7.5">+</tspan><tspan dy="5.3"> Monocytes)</tspan></text>
<line x1="327.5" y1="361.7" x2="376.5" y2="361.7" stroke="#111" stroke-width="1.3" />
<path d="M352.00 311.00L354.65 316.30L349.35 316.30Z" fill="none" stroke="#111" stroke-width="1.35" stroke-linejoin="round"/>
<path d="M352.00 319.40L354.65 324.70L349.35 324.70Z" fill="none" stroke="#111" stroke-width="1.35" stroke-linejoin="round"/>
<path d="M359.30 319.40L361.95 324.70L356.65 324.70Z" fill="none" stroke="#111" stroke-width="1.35" stroke-linejoin="round"/>
<path d="M344.00 331.10L346.65 336.40L341.35 336.40Z" fill="none" stroke="#111" stroke-width="1.35" stroke-linejoin="round"/>
<path d="M344.00 342.10L346.65 347.40L341.35 347.40Z" fill="none" stroke="#111" stroke-width="1.35" stroke-linejoin="round"/>
<path d="M352.00 338.80L354.65 344.10L349.35 344.10Z" fill="none" stroke="#111" stroke-width="1.35" stroke-linejoin="round"/>
<path d="M352.00 348.70L354.65 354.00L349.35 354.00Z" fill="none" stroke="#111" stroke-width="1.35" stroke-linejoin="round"/>
<path d="M359.30 347.90L361.95 353.20L356.65 353.20Z" fill="none" stroke="#111" stroke-width="1.35" stroke-linejoin="round"/>
<path d="M344.00 356.70L346.65 362.00L341.35 362.00Z" fill="none" stroke="#111" stroke-width="1.35" stroke-linejoin="round"/>
<path d="M352.00 357.80L354.65 363.10L349.35 363.10Z" fill="none" stroke="#111" stroke-width="1.35" stroke-linejoin="round"/>
<path d="M344.00 377.90L346.65 383.20L341.35 383.20Z" fill="none" stroke="#111" stroke-width="1.35" stroke-linejoin="round"/>
<path d="M352.00 379.70L354.65 385.00L349.35 385.00Z" fill="none" stroke="#111" stroke-width="1.35" stroke-linejoin="round"/>
<path d="M359.30 379.70L361.95 385.00L356.65 385.00Z" fill="none" stroke="#111" stroke-width="1.35" stroke-linejoin="round"/>
<path d="M367.40 376.10L370.05 381.40L364.75 381.40Z" fill="none" stroke="#111" stroke-width="1.35" stroke-linejoin="round"/>
<path d="M344.00 395.40L346.65 400.70L341.35 400.70Z" fill="none" stroke="#111" stroke-width="1.35" stroke-linejoin="round"/>
<path d="M352.00 394.30L354.65 399.60L349.35 399.60Z" fill="none" stroke="#111" stroke-width="1.35" stroke-linejoin="round"/>
<path d="M359.30 396.90L361.95 402.20L356.65 402.20Z" fill="none" stroke="#111" stroke-width="1.35" stroke-linejoin="round"/>
<path d="M352.00 402.70L354.65 408.00L349.35 408.00Z" fill="none" stroke="#111" stroke-width="1.35" stroke-linejoin="round"/>
<line x1="389" y1="375.3" x2="438.5" y2="375.3" stroke="#111" stroke-width="1.3" />
<path d="M406.10 338.00L408.75 332.60L403.45 332.60Z" fill="none" stroke="#111" stroke-width="1.35" stroke-linejoin="round"/>
<path d="M414.10 339.10L416.75 333.70L411.45 333.70Z" fill="none" stroke="#111" stroke-width="1.35" stroke-linejoin="round"/>
<path d="M414.10 351.50L416.75 346.10L411.45 346.10Z" fill="none" stroke="#111" stroke-width="1.35" stroke-linejoin="round"/>
<path d="M406.10 362.50L408.75 357.10L403.45 357.10Z" fill="none" stroke="#111" stroke-width="1.35" stroke-linejoin="round"/>
<path d="M414.10 366.50L416.75 361.10L411.45 361.10Z" fill="none" stroke="#111" stroke-width="1.35" stroke-linejoin="round"/>
<path d="M406.10 369.10L408.75 363.70L403.45 363.70Z" fill="none" stroke="#111" stroke-width="1.35" stroke-linejoin="round"/>
<path d="M414.10 374.60L416.75 369.20L411.45 369.20Z" fill="none" stroke="#111" stroke-width="1.35" stroke-linejoin="round"/>
<path d="M421.40 374.60L424.05 369.20L418.75 369.20Z" fill="none" stroke="#111" stroke-width="1.35" stroke-linejoin="round"/>
<path d="M406.10 391.00L408.75 385.60L403.45 385.60Z" fill="none" stroke="#111" stroke-width="1.35" stroke-linejoin="round"/>
<path d="M414.10 392.80L416.75 387.40L411.45 387.40Z" fill="none" stroke="#111" stroke-width="1.35" stroke-linejoin="round"/>
<path d="M406.10 407.40L408.75 402.00L403.45 402.00Z" fill="none" stroke="#111" stroke-width="1.35" stroke-linejoin="round"/>
<path d="M414.10 411.10L416.75 405.70L411.45 405.70Z" fill="none" stroke="#111" stroke-width="1.35" stroke-linejoin="round"/>
<path d="M421.40 411.10L424.05 405.70L418.75 405.70Z" fill="none" stroke="#111" stroke-width="1.35" stroke-linejoin="round"/>
<path d="M429.50 404.20L432.15 398.80L426.85 398.80Z" fill="none" stroke="#111" stroke-width="1.35" stroke-linejoin="round"/>
<line x1="451.2" y1="391.4" x2="499.9" y2="391.4" stroke="#111" stroke-width="1.3" />
<circle cx="475.6" cy="365.6" r="2.75" fill="none" stroke="#111" stroke-width="1.25"/>
<circle cx="475.6" cy="375.5" r="2.75" fill="none" stroke="#111" stroke-width="1.25"/>
<circle cx="475.6" cy="384.4" r="2.75" fill="none" stroke="#111" stroke-width="1.25"/>
<circle cx="468" cy="395.7" r="2.75" fill="none" stroke="#111" stroke-width="1.25"/>
<circle cx="475.6" cy="396.5" r="2.75" fill="none" stroke="#111" stroke-width="1.25"/>
<circle cx="468" cy="401.4" r="2.75" fill="none" stroke="#111" stroke-width="1.25"/>
<circle cx="483.1" cy="404.6" r="2.75" fill="none" stroke="#111" stroke-width="1.25"/>
<circle cx="475.6" cy="408.7" r="2.75" fill="none" stroke="#111" stroke-width="1.25"/>
<text x="15.6" y="477.2" font-size="17" text-anchor="start" font-weight="bold" fill="#000" >C</text>
<line x1="67.2" y1="522.9" x2="67.2" y2="642.3000000000001" stroke="#111" stroke-width="1.6" />
<line x1="66.5" y1="641.6" x2="242.7" y2="641.6" stroke="#111" stroke-width="1.6" />
<line x1="63.5" y1="641.6" x2="67.2" y2="641.6" stroke="#111" stroke-width="1.4" />
<text x="62.3" y="646.2" font-size="13" text-anchor="end" font-weight="normal" fill="#111" textLength="7.0" lengthAdjust="spacingAndGlyphs" >0</text>
<line x1="63.5" y1="612.05" x2="67.2" y2="612.05" stroke="#111" stroke-width="1.4" />
<text x="62.3" y="616.65" font-size="13" text-anchor="end" font-weight="normal" fill="#111" textLength="13.6" lengthAdjust="spacingAndGlyphs" >20</text>
<line x1="63.5" y1="582.5" x2="67.2" y2="582.5" stroke="#111" stroke-width="1.4" />
<text x="62.3" y="587.1" font-size="13" text-anchor="end" font-weight="normal" fill="#111" textLength="13.6" lengthAdjust="spacingAndGlyphs" >40</text>
<line x1="63.5" y1="552.95" x2="67.2" y2="552.95" stroke="#111" stroke-width="1.4" />
<text x="62.3" y="557.5500000000001" font-size="13" text-anchor="end" font-weight="normal" fill="#111" textLength="13.6" lengthAdjust="spacingAndGlyphs" >60</text>
<line x1="63.5" y1="523.4" x2="67.2" y2="523.4" stroke="#111" stroke-width="1.4" />
<text x="62.3" y="528.0" font-size="13" text-anchor="end" font-weight="normal" fill="#111" textLength="13.6" lengthAdjust="spacingAndGlyphs" >80</text>
<line x1="96.3" y1="641.6" x2="96.3" y2="645.4" stroke="#111" stroke-width="1.4" />
<line x1="155.5" y1="641.6" x2="155.5" y2="645.4" stroke="#111" stroke-width="1.4" />
<line x1="214.3" y1="641.6" x2="214.3" y2="645.4" stroke="#111" stroke-width="1.4" />
<text x="85.5" y="658.5" font-size="12" text-anchor="start" font-weight="normal" fill="#111" textLength="24.3" lengthAdjust="spacingAndGlyphs" >&lt; 12</text>
<text x="138.5" y="658.5" font-size="12" text-anchor="start" font-weight="normal" fill="#111" textLength="37.5" lengthAdjust="spacingAndGlyphs" >12 - 60</text>
<text x="203" y="658.5" font-size="12" text-anchor="start" font-weight="normal" fill="#111" textLength="24.1" lengthAdjust="spacingAndGlyphs" >&gt; 60</text>
<text x="64.4" y="683.7" font-size="12.7" text-anchor="start" font-weight="normal" fill="#111" textLength="173.2" lengthAdjust="spacingAndGlyphs" >Rate of lymphoma progression</text>
<text x="63.2" y="696.1" font-size="12.7" text-anchor="start" font-weight="normal" fill="#111" textLength="177.4" lengthAdjust="spacingAndGlyphs" >(number of months per relapse)</text>
<text transform="translate(24.9,671.0) rotate(-90)" font-size="12.8" text-anchor="start" fill="#111" textLength="181.3" lengthAdjust="spacingAndGlyphs">CD14<tspan dy="-6" font-size="9">+</tspan><tspan dy="6">HLADR<tspan dy="-5.2" font-size="9.8">low/neg</tspan><tspan dy="5.2"> monocytes</tspan></tspan></text>
<text transform="translate(42.2,664.8) rotate(-90)" font-size="12.7" text-anchor="start" fill="#111" textLength="168.9" lengthAdjust="spacingAndGlyphs">(percent of CD14<tspan dy="-6" font-size="9">+</tspan><tspan dy="6"> monocytes)</tspan></text>
<line x1="78.5" y1="514.2" x2="133.5" y2="514.2" stroke="#111" stroke-width="2.0" stroke-dasharray="5.7 2.0"/>
<line x1="181.9" y1="514.0" x2="248.1" y2="514.0" stroke="#111" stroke-width="2.0" stroke-dasharray="7.0 1.6"/>
<text x="137.5" y="518.5" font-size="11" text-anchor="start" font-weight="normal" fill="#111" textLength="41.2" lengthAdjust="spacingAndGlyphs" >p = 0.01</text>
<line x1="136.6" y1="532.8" x2="168.4" y2="532.8" stroke="#111" stroke-width="2.0" stroke-dasharray="6.0 2.0"/>
<line x1="216.5" y1="532.8" x2="248.1" y2="532.8" stroke="#111" stroke-width="2.0" stroke-dasharray="6.2 2.3"/>
<text x="174.2" y="536.6" font-size="11" text-anchor="start" font-weight="normal" fill="#111" textLength="40.2" lengthAdjust="spacingAndGlyphs" >p = 0.01</text>
<line x1="97.3" y1="585.9" x2="97.3" y2="591.3" stroke="#111" stroke-width="1.6" />
<line x1="87.3" y1="585.9" x2="107.3" y2="585.9" stroke="#111" stroke-width="1.6" />
<line x1="97.3" y1="610.2" x2="97.3" y2="610.2" stroke="#111" stroke-width="1.6" />
<line x1="87.3" y1="610.2" x2="107.3" y2="610.2" stroke="#111" stroke-width="1.6" />
<rect x="77.7" y="591.3" width="38.89999999999999" height="18.90000000000009" fill="#ffffff" stroke="#111" stroke-width="1.7"/>
<line x1="77.7" y1="608.8" x2="116.6" y2="608.8" stroke="#111" stroke-width="1.6" />
<line x1="155.8" y1="538.4" x2="155.8" y2="568.3" stroke="#111" stroke-width="1.6" />
<line x1="145.8" y1="538.4" x2="165.8" y2="538.4" stroke="#111" stroke-width="1.6" />
<line x1="155.8" y1="621.7" x2="155.8" y2="637.7" stroke="#111" stroke-width="1.6" />
<line x1="145.8" y1="637.7" x2="165.8" y2="637.7" stroke="#111" stroke-width="1.6" />
<rect x="135.6" y="568.3" width="40.20000000000002" height="53.40000000000009" fill="#c4c4c4" stroke="#111" stroke-width="1.7"/>
<line x1="135.6" y1="592.1" x2="175.8" y2="592.1" stroke="#111" stroke-width="1.6" />
<line x1="214.5" y1="618.0" x2="214.5" y2="622.4" stroke="#111" stroke-width="1.6" />
<line x1="204.8" y1="618.0" x2="224.2" y2="618.0" stroke="#111" stroke-width="1.6" />
<line x1="214.5" y1="637.9" x2="214.5" y2="637.9" stroke="#111" stroke-width="1.6" />
<line x1="204.8" y1="637.9" x2="224.2" y2="637.9" stroke="#111" stroke-width="1.6" />
<rect x="194.6" y="622.4" width="39.70000000000002" height="15.5" fill="#6a6a6a" stroke="#111" stroke-width="1.7"/>
<line x1="194.6" y1="635.6" x2="234.3" y2="635.6" stroke="#111" stroke-width="1.6" />
<text x="274.8" y="479.6" font-size="17" text-anchor="start" font-weight="bold" fill="#000" >D</text>
<line x1="309.8" y1="513.6" x2="309.8" y2="641.6" stroke="#111" stroke-width="1.6" />
<line x1="309.1" y1="640.9" x2="501.5" y2="640.9" stroke="#111" stroke-width="1.6" />
<line x1="306.2" y1="640.9" x2="309.8" y2="640.9" stroke="#111" stroke-width="1.4" />
<text x="306.1" y="645.0" font-size="11.3" text-anchor="end" font-weight="normal" fill="#111" textLength="6.3" lengthAdjust="spacingAndGlyphs" >0</text>
<line x1="306.2" y1="611.8" x2="309.8" y2="611.8" stroke="#111" stroke-width="1.4" />
<text x="306.1" y="615.9" font-size="11.3" text-anchor="end" font-weight="normal" fill="#111" textLength="12.6" lengthAdjust="spacingAndGlyphs" >25</text>
<line x1="306.2" y1="582.7" x2="309.8" y2="582.7" stroke="#111" stroke-width="1.4" />
<text x="306.1" y="586.8000000000001" font-size="11.3" text-anchor="end" font-weight="normal" fill="#111" textLength="12.6" lengthAdjust="spacingAndGlyphs" >50</text>
<line x1="306.2" y1="553.6" x2="309.8" y2="553.6" stroke="#111" stroke-width="1.4" />
<text x="306.1" y="557.7" font-size="11.3" text-anchor="end" font-weight="normal" fill="#111" textLength="12.6" lengthAdjust="spacingAndGlyphs" >75</text>
<line x1="306.2" y1="524.5" x2="309.8" y2="524.5" stroke="#111" stroke-width="1.4" />
<text x="306.1" y="528.6" font-size="11.3" text-anchor="end" font-weight="normal" fill="#111" textLength="19.3" lengthAdjust="spacingAndGlyphs" >100</text>
<line x1="309.8" y1="640.9" x2="309.8" y2="644.1999999999999" stroke="#111" stroke-width="1.4" />
<text x="309.8" y="654.8" font-size="11.3" text-anchor="middle" font-weight="normal" fill="#111" textLength="6.3" lengthAdjust="spacingAndGlyphs" >0</text>
<line x1="357.6" y1="640.9" x2="357.6" y2="644.1999999999999" stroke="#111" stroke-width="1.4" />
<text x="357.6" y="654.8" font-size="11.3" text-anchor="middle" font-weight="normal" fill="#111" textLength="18.8" lengthAdjust="spacingAndGlyphs" >250</text>
<line x1="405.4" y1="640.9" x2="405.4" y2="644.1999999999999" stroke="#111" stroke-width="1.4" />
<text x="405.4" y="654.8" font-size="11.3" text-anchor="middle" font-weight="normal" fill="#111" textLength="18.8" lengthAdjust="spacingAndGlyphs" >500</text>
<line x1="453.20000000000005" y1="640.9" x2="453.20000000000005" y2="644.1999999999999" stroke="#111" stroke-width="1.4" />
<text x="453.20000000000005" y="654.8" font-size="11.3" text-anchor="middle" font-weight="normal" fill="#111" textLength="18.8" lengthAdjust="spacingAndGlyphs" >750</text>
<line x1="501.0" y1="640.9" x2="501.0" y2="644.1999999999999" stroke="#111" stroke-width="1.4" />
<text x="501.0" y="654.8" font-size="11.3" text-anchor="middle" font-weight="normal" fill="#111" textLength="23.5" lengthAdjust="spacingAndGlyphs" >1000</text>
<text x="376.6" y="669.2" font-size="11.2" text-anchor="start" font-weight="normal" fill="#111" textLength="58.8" lengthAdjust="spacingAndGlyphs" >Time (days)</text>
<text transform="translate(281.6,636.4) rotate(-90)" font-size="11" text-anchor="start" fill="#111" textLength="122.2" lengthAdjust="spacingAndGlyphs">Overall survival (percent)</text>
<line x1="309.8" y1="524.4" x2="465.6" y2="524.4" stroke="#000" stroke-width="2.1" />
<path d="M309.8 524.4H317V527.3H321.4V533.2H349.6V541H355V546.1H368.4V559H499.2" fill="none" stroke="#666" stroke-width="2.3"/>
<line x1="318" y1="522.6" x2="318" y2="524.4" stroke="#000" stroke-width="0.8" />
<line x1="320" y1="522.6" x2="320" y2="524.4" stroke="#000" stroke-width="0.8" />
<line x1="323" y1="522.6" x2="323" y2="524.4" stroke="#000" stroke-width="0.8" />
<line x1="362" y1="522.6" x2="362" y2="524.4" stroke="#000" stroke-width="0.8" />
<line x1="364" y1="522.6" x2="364" y2="524.4" stroke="#000" stroke-width="0.8" />
<line x1="367" y1="522.6" x2="367" y2="524.4" stroke="#000" stroke-width="0.8" />
<line x1="370" y1="522.6" x2="370" y2="524.4" stroke="#000" stroke-width="0.8" />
<line x1="401.7" y1="557.0" x2="401.7" y2="559" stroke="#888" stroke-width="0.7" />
<line x1="406.3" y1="557.0" x2="406.3" y2="559" stroke="#888" stroke-width="0.7" />
<line x1="407.5" y1="557.0" x2="407.5" y2="559" stroke="#888" stroke-width="0.7" />
<line x1="425.4" y1="557.0" x2="425.4" y2="559" stroke="#888" stroke-width="0.7" />
<line x1="428.6" y1="557.0" x2="428.6" y2="559" stroke="#888" stroke-width="0.7" />
<line x1="433.8" y1="557.0" x2="433.8" y2="559" stroke="#888" stroke-width="0.7" />
<line x1="437" y1="557.0" x2="437" y2="559" stroke="#888" stroke-width="0.7" />
<line x1="439.1" y1="557.0" x2="439.1" y2="559" stroke="#888" stroke-width="0.7" />
<line x1="459.2" y1="557.0" x2="459.2" y2="559" stroke="#888" stroke-width="0.7" />
<line x1="484.6" y1="557.0" x2="484.6" y2="559" stroke="#888" stroke-width="0.7" />
<line x1="488.8" y1="557.0" x2="488.8" y2="559" stroke="#888" stroke-width="0.7" />
<line x1="494.1" y1="557.0" x2="494.1" y2="559" stroke="#888" stroke-width="0.7" />
<line x1="497.3" y1="557.0" x2="497.3" y2="559" stroke="#888" stroke-width="0.7" />
<text x="430.9" y="545.4" font-size="10.4" text-anchor="start" font-weight="normal" fill="#111" textLength="36.6" lengthAdjust="spacingAndGlyphs" >p = 0.13</text>
<line x1="396.9" y1="613.8" x2="410.8" y2="613.8" stroke="#000" stroke-width="2.1" />
<line x1="404" y1="612" x2="404" y2="613.8" stroke="#000" stroke-width="0.8" />
<line x1="396.9" y1="624.9" x2="410.8" y2="624.9" stroke="#666" stroke-width="2.3" />
<text x="415.8" y="617.3" font-size="9.7" text-anchor="start" font-weight="normal" fill="#111" textLength="70" lengthAdjust="spacingAndGlyphs" >Normal HLA-DR</text>
<text x="415.8" y="628.8" font-size="9.7" text-anchor="start" font-weight="normal" fill="#111" textLength="86.6" lengthAdjust="spacingAndGlyphs" >Decreased HLA-DR</text>
</svg></body></html>
